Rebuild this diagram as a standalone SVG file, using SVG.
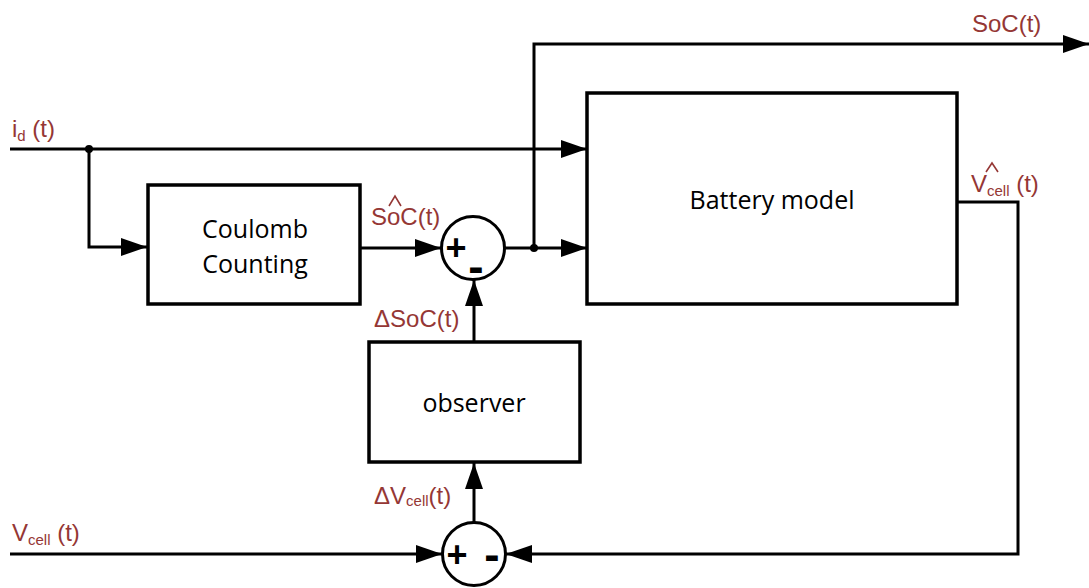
<svg xmlns="http://www.w3.org/2000/svg" width="1089" height="588" viewBox="0 0 1089 588">
<style>
.box{fill:#fff;stroke:#000;stroke-width:3.5}
.ln{fill:none;stroke:#000;stroke-width:3}
.arr{fill:none;stroke:#000;stroke-width:3;marker-end:url(#ah)}
.hat{fill:none;stroke:#953735;stroke-width:1.6}
.lbl{font-family:"Open Sans","Noto Sans",sans-serif;font-size:25px;fill:#000;text-anchor:middle}
.sig{font-family:"Liberation Sans",Arial,sans-serif;font-size:24px;fill:#953735}
.sub{font-size:15px}
.sym{font-family:"Liberation Sans",Arial,sans-serif;font-weight:bold;fill:#000;text-anchor:middle}
</style>
<defs>
<marker id="ah" markerUnits="userSpaceOnUse" markerWidth="26" markerHeight="18" viewBox="0 0 26 18" refX="26" refY="9" orient="auto">
<path d="M0,0 L26,9 L0,18 Z" fill="#000"/>
</marker>
</defs>
<g id="connectors">
<path class="arr" d="M10,149 H587"/>
<path class="arr" d="M89,149 V247 H147"/>
<path class="arr" d="M361,248 H441"/>
<path class="arr" d="M505,248 H587"/>
<path class="arr" d="M534,248 V44 H1089"/>
<path class="arr" d="M958,202 H1018 V554 H506"/>
<path class="arr" d="M10,554 H442"/>
<path class="arr" d="M474,522 V463"/>
<path class="arr" d="M474,341 V280"/>
<circle cx="89" cy="149" r="4" fill="#000"/>
<circle cx="534" cy="248" r="4" fill="#000"/>
</g>
<g id="coulomb">
<rect class="box" x="148" y="185" width="212" height="119"/>
<text class="lbl" x="255" y="238">Coulomb</text>
<text class="lbl" x="255" y="273">Counting</text>
</g>
<g id="battery">
<rect class="box" x="587" y="93" width="370" height="211"/>
<text class="lbl" x="772" y="209">Battery model</text>
</g>
<g id="observer">
<rect class="box" x="369" y="342" width="211" height="120"/>
<text class="lbl" x="474" y="412">observer</text>
</g>
<g id="sum1">
<circle cx="473" cy="248" r="31.5" fill="#fff" stroke="#000" stroke-width="3"/>
<text class="sym" x="456" y="260" font-size="36">+</text>
<text class="sym" x="476" y="282" font-size="46">-</text>
</g>
<g id="sum2">
<circle cx="474" cy="554" r="31.5" fill="#fff" stroke="#000" stroke-width="3"/>
<text class="sym" x="457" y="567" font-size="36">+</text>
<text class="sym" x="492" y="570" font-size="46">-</text>
</g>
<g id="labels">
<text class="sig" x="12" y="137">i<tspan class="sub" dy="4">d</tspan><tspan dy="-4"> (t)</tspan></text>
<text class="sig" x="371" y="225">SoC(t)</text>
<path class="hat" d="M389,206 L395,196 L401,206"/>
<text class="sig" x="374" y="327">ΔSoC(t)</text>
<text class="sig" x="972" y="32">SoC(t)</text>
<text class="sig" x="971" y="192">V<tspan class="sub" dy="4">cell</tspan><tspan dy="-4"> (t)</tspan></text>
<path class="hat" d="M986,172 L992,163 L998,172"/>
<text class="sig" x="12" y="541">V<tspan class="sub" dy="4">cell</tspan><tspan dy="-4"> (t)</tspan></text>
<text class="sig" x="374" y="504">ΔV<tspan class="sub" dy="2">cell</tspan><tspan dy="-2">(t)</tspan></text>
</g>
</svg>
